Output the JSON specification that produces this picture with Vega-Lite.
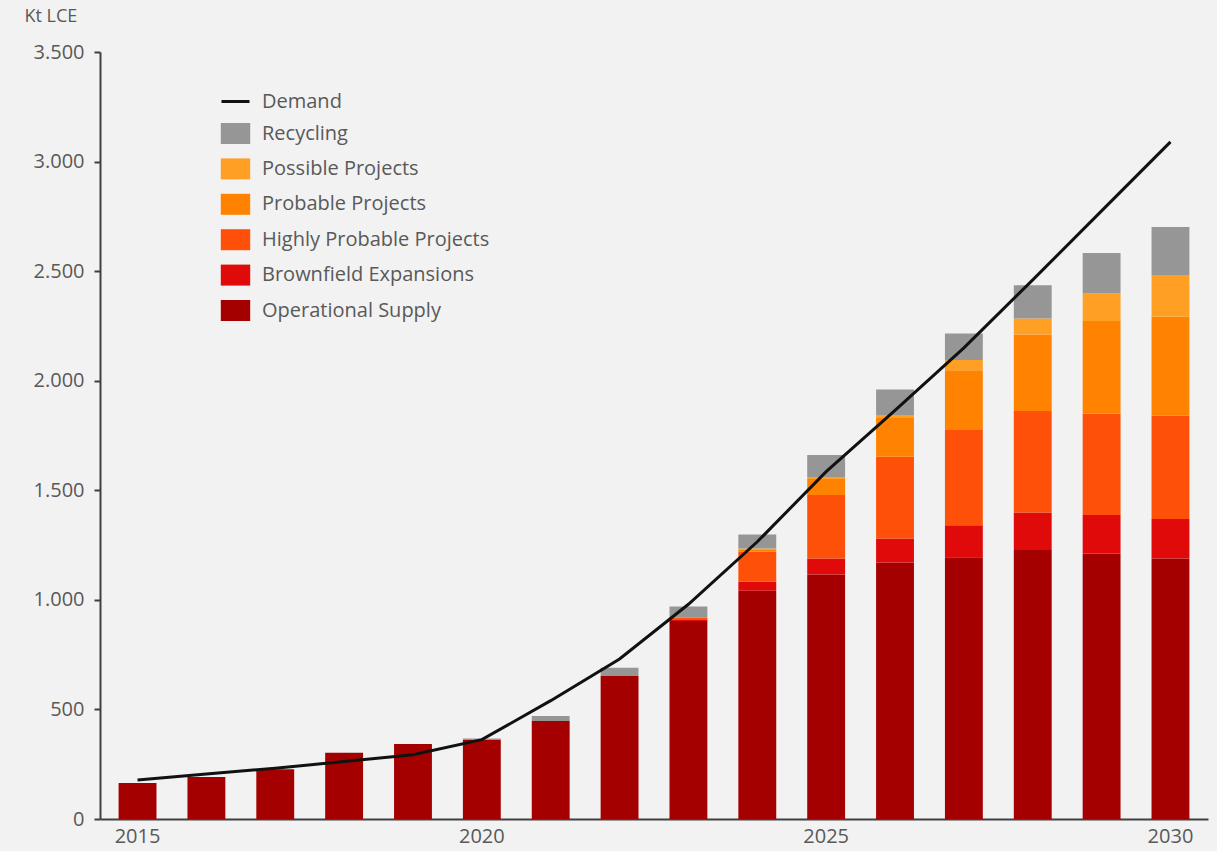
{
  "$schema": "https://vega.github.io/schema/vega-lite/v6.json",
  "width": 1108,
  "height": 767,
  "autosize": {"type": "none"},
  "padding": {"left": 100, "top": 52, "right": 9, "bottom": 32},
  "background": "#f2f2f2",
  "config": {
    "view": {"stroke": null},
    "font": "Open Sans",
    "axis": {"labelFont": "Open Sans", "titleFont": "Open Sans"},
    "legend": {"labelFont": "Open Sans"}
  },
  "datasets": {
    "supply": [
      {"year": 2015, "category": "Operational Supply", "value": 164},
      {"year": 2016, "category": "Operational Supply", "value": 192},
      {"year": 2017, "category": "Operational Supply", "value": 227},
      {"year": 2018, "category": "Operational Supply", "value": 302},
      {"year": 2019, "category": "Operational Supply", "value": 342},
      {"year": 2020, "category": "Operational Supply", "value": 360},
      {"year": 2020, "category": "Recycling", "value": 7},
      {"year": 2021, "category": "Operational Supply", "value": 447},
      {"year": 2021, "category": "Recycling", "value": 23},
      {"year": 2022, "category": "Operational Supply", "value": 652},
      {"year": 2022, "category": "Recycling", "value": 38},
      {"year": 2023, "category": "Operational Supply", "value": 903},
      {"year": 2023, "category": "Brownfield Expansions", "value": 5},
      {"year": 2023, "category": "Highly Probable Projects", "value": 12},
      {"year": 2023, "category": "Recycling", "value": 50},
      {"year": 2024, "category": "Operational Supply", "value": 1042},
      {"year": 2024, "category": "Brownfield Expansions", "value": 41},
      {"year": 2024, "category": "Highly Probable Projects", "value": 136},
      {"year": 2024, "category": "Probable Projects", "value": 12},
      {"year": 2024, "category": "Possible Projects", "value": 3},
      {"year": 2024, "category": "Recycling", "value": 64},
      {"year": 2025, "category": "Operational Supply", "value": 1116},
      {"year": 2025, "category": "Brownfield Expansions", "value": 73},
      {"year": 2025, "category": "Highly Probable Projects", "value": 289},
      {"year": 2025, "category": "Probable Projects", "value": 73},
      {"year": 2025, "category": "Possible Projects", "value": 10},
      {"year": 2025, "category": "Recycling", "value": 100},
      {"year": 2026, "category": "Operational Supply", "value": 1171},
      {"year": 2026, "category": "Brownfield Expansions", "value": 109},
      {"year": 2026, "category": "Highly Probable Projects", "value": 373},
      {"year": 2026, "category": "Probable Projects", "value": 180},
      {"year": 2026, "category": "Possible Projects", "value": 10},
      {"year": 2026, "category": "Recycling", "value": 117},
      {"year": 2027, "category": "Operational Supply", "value": 1194},
      {"year": 2027, "category": "Brownfield Expansions", "value": 147},
      {"year": 2027, "category": "Highly Probable Projects", "value": 434},
      {"year": 2027, "category": "Probable Projects", "value": 273},
      {"year": 2027, "category": "Possible Projects", "value": 46},
      {"year": 2027, "category": "Recycling", "value": 121},
      {"year": 2028, "category": "Operational Supply", "value": 1227},
      {"year": 2028, "category": "Brownfield Expansions", "value": 172},
      {"year": 2028, "category": "Highly Probable Projects", "value": 463},
      {"year": 2028, "category": "Probable Projects", "value": 349},
      {"year": 2028, "category": "Possible Projects", "value": 73},
      {"year": 2028, "category": "Recycling", "value": 152},
      {"year": 2029, "category": "Operational Supply", "value": 1212},
      {"year": 2029, "category": "Brownfield Expansions", "value": 175},
      {"year": 2029, "category": "Highly Probable Projects", "value": 463},
      {"year": 2029, "category": "Probable Projects", "value": 422},
      {"year": 2029, "category": "Possible Projects", "value": 126},
      {"year": 2029, "category": "Recycling", "value": 185},
      {"year": 2030, "category": "Operational Supply", "value": 1189},
      {"year": 2030, "category": "Brownfield Expansions", "value": 180},
      {"year": 2030, "category": "Highly Probable Projects", "value": 471},
      {"year": 2030, "category": "Probable Projects", "value": 452},
      {"year": 2030, "category": "Possible Projects", "value": 190},
      {"year": 2030, "category": "Recycling", "value": 220}
    ],
    "demand": [
      {"year": 2015, "series": "Demand", "demand": 178},
      {"year": 2016, "series": "Demand", "demand": 205},
      {"year": 2017, "series": "Demand", "demand": 232},
      {"year": 2018, "series": "Demand", "demand": 262},
      {"year": 2019, "series": "Demand", "demand": 293},
      {"year": 2020, "series": "Demand", "demand": 362},
      {"year": 2021, "series": "Demand", "demand": 540},
      {"year": 2022, "series": "Demand", "demand": 730},
      {"year": 2023, "series": "Demand", "demand": 980},
      {"year": 2024, "series": "Demand", "demand": 1265},
      {"year": 2025, "series": "Demand", "demand": 1585},
      {"year": 2026, "series": "Demand", "demand": 1865},
      {"year": 2027, "series": "Demand", "demand": 2150},
      {"year": 2028, "series": "Demand", "demand": 2460},
      {"year": 2029, "series": "Demand", "demand": 2775},
      {"year": 2030, "series": "Demand", "demand": 3090}
    ]
  },
  "layer": [
    {
      "data": {"name": "supply"},
      "transform": [
        {"calculate": "indexof(['Operational Supply','Brownfield Expansions','Highly Probable Projects','Probable Projects','Possible Projects','Recycling'], datum.category)", "as": "stackOrder"}
      ],
      "mark": {"type": "bar"},
      "encoding": {
        "x": {
          "field": "year",
          "type": "ordinal",
          "scale": {"paddingInner": 0.45, "paddingOuter": 0.27},
          "axis": {
            "title": null,
            "values": [2015, 2020, 2025, 2030],
            "labelAngle": 0,
            "labelFontSize": 20,
            "labelColor": "#595959",
            "labelPadding": 7,
            "ticks": false,
            "domainColor": "#404040",
            "domainWidth": 2
          }
        },
        "y": {
          "field": "value",
          "type": "quantitative",
          "aggregate": "sum",
          "stack": "zero",
          "scale": {"domain": [0, 3500], "nice": false},
          "axis": {
            "title": "Kt LCE",
            "titleAngle": 0,
            "titleAlign": "left",
            "titleBaseline": "top",
            "titleX": -76,
            "titleY": -45,
            "titleFontSize": 18,
            "titleFontWeight": "normal",
            "titleColor": "#595959",
            "values": [0, 500, 1000, 1500, 2000, 2500, 3000, 3500],
            "labelExpr": "replace(format(datum.value, ','), ',', '.')",
            "labelFontSize": 20,
            "labelColor": "#595959",
            "labelPadding": 10,
            "tickSize": 6,
            "tickColor": "#404040",
            "tickWidth": 2,
            "domainColor": "#404040",
            "domainWidth": 2,
            "grid": false
          }
        },
        "color": {
          "field": "category",
          "type": "nominal",
          "scale": {
            "domain": ["Recycling", "Possible Projects", "Probable Projects", "Highly Probable Projects", "Brownfield Expansions", "Operational Supply"],
            "range": ["#969696", "#ffa024", "#ff8200", "#ff5009", "#e00a0a", "#a50000"]
          },
          "legend": {
            "title": null,
            "orient": "none",
            "legendX": 125,
            "legendY": 71,
            "symbolType": "M-1.4,-1L1.4,-1L1.4,1L-1.4,1Z",
            "symbolSize": 441,
            "symbolStrokeWidth": 0,
            "labelFontSize": 20,
            "labelLimit": 500,
            "labelColor": "#595959",
            "labelOffset": 16,
            "rowPadding": 14.4
          }
        },
        "order": {"field": "stackOrder", "type": "quantitative"}
      }
    },
    {
      "data": {"name": "demand"},
      "mark": {"type": "line", "strokeWidth": 3},
      "encoding": {
        "x": {"field": "year", "type": "ordinal"},
        "y": {"field": "demand", "type": "quantitative"},
        "stroke": {
          "field": "series",
          "type": "nominal",
          "scale": {"domain": ["Demand"], "range": ["#111111"]},
          "legend": {
            "title": null,
            "orient": "none",
            "legendX": 120,
            "legendY": 34,
            "symbolType": "stroke",
            "symbolSize": 784,
            "symbolStrokeWidth": 3,
            "labelFontSize": 20,
            "labelLimit": 500,
            "labelColor": "#595959",
            "labelOffset": 11
          }
        }
      }
    }
  ]
}
